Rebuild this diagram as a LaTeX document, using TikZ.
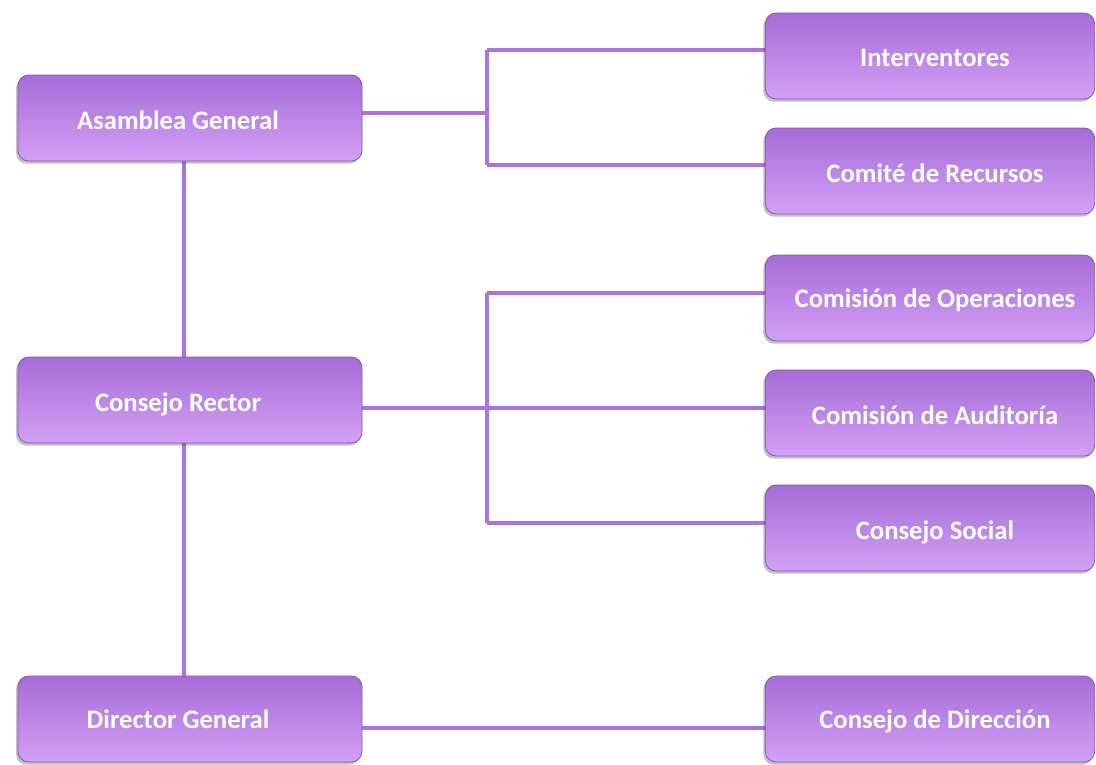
\documentclass[tikz,border=0pt]{standalone}
\usepackage{fontspec}
\setmainfont{Carlito}
\usetikzlibrary{shadows}
\definecolor{boxtop}{HTML}{A66CD8}
\definecolor{boxmid}{HTML}{B27BE6}
\definecolor{boxbot}{HTML}{D2A0F5}
\definecolor{linecol}{HTML}{AC73DE}
\tikzset{
  orgbox/.style={rounded corners=8pt, draw=boxtop!80!black, line width=0.6pt,
    top color=boxtop, middle color=boxmid, bottom color=boxbot,
    drop shadow={shadow xshift=-1.5pt, shadow yshift=-2pt, opacity=0.35, fill=black!70},
    text=white, font=\fontsize{20}{24}\selectfont\bfseries, inner sep=0pt,
    text height=12.9pt, text depth=0pt,
    minimum height=64.5pt},
  leftbox/.style={orgbox, minimum width=258pt, execute at end node={\hspace{18pt}}},
  rightbox/.style={orgbox, minimum width=247pt, execute at begin node={\hspace{7.5pt}}},
  conn/.style={draw=linecol, line width=3pt}
}
\begin{document}
\begin{tikzpicture}[x=0.75pt, y=-0.75pt]
\useasboundingbox (0,0) rectangle (1096,764);
% junction coordinates
\coordinate (j1) at (487,113);
\coordinate (j1t) at (487,50);
\coordinate (j1b) at (487,165);
\coordinate (j2) at (487,408);
\coordinate (j2t) at (487,293);
\coordinate (j2b) at (487,523);
\coordinate (j3) at (487,728);
% box centres
\path (190,118) coordinate (cAG) (190,400) coordinate (cCR) (190,719) coordinate (cDG);
\path (930,56) coordinate (cIN) (930,171) coordinate (cCO) (930,298) coordinate (cOP)
      (930,413) coordinate (cAU) (930,528) coordinate (cSO) (930,719) coordinate (cDI);
% connectors (drawn first, below boxes)
\draw[conn] (184,118) coordinate (v1) -- (184,400) coordinate (v2);
\draw[conn] (v2) -- (184,719) coordinate (v3);
\draw[conn] (cAG |- j1) -- (j1);
\draw[conn] (j1t) -- (j1b);
\draw[conn] (j1t) -- (cIN |- j1t);
\draw[conn] (j1b) -- (cCO |- j1b);
\draw[conn] (cCR |- j2) -- (cAU |- j2);
\draw[conn] (j2t) -- (j2b);
\draw[conn] (j2t) -- (cOP |- j2t);
\draw[conn] (j2b) -- (cSO |- j2b);
\draw[conn] (cDG |- j3) -- (cDI |- j3);
% boxes
\node[leftbox] (AG) at (cAG) {\raisebox{-2pt}{Asamblea General}};
\node[leftbox] (CR) at (cCR) {\raisebox{-2pt}{Consejo Rector}};
\node[leftbox] (DG) at (cDG) {\raisebox{-1pt}{Director General}};
\node[rightbox] (IN) at (cIN) {\raisebox{-1.5pt}{Interventores}};
\node[rightbox] (CO) at (cCO) {\raisebox{-2pt}{Comité de Recursos}};
\node[rightbox] (OP) at (cOP) {\raisebox{-1pt}{Comisión de Operaciones}};
\node[rightbox] (AU) at (cAU) {\raisebox{-2pt}{Comisión de Auditoría}};
\node[rightbox] (SO) at (cSO) {\raisebox{-2pt}{Consejo Social}};
\node[rightbox] (DI) at (cDI) {\raisebox{-1pt}{Consejo de Dirección}};
\end{tikzpicture}
\end{document}
